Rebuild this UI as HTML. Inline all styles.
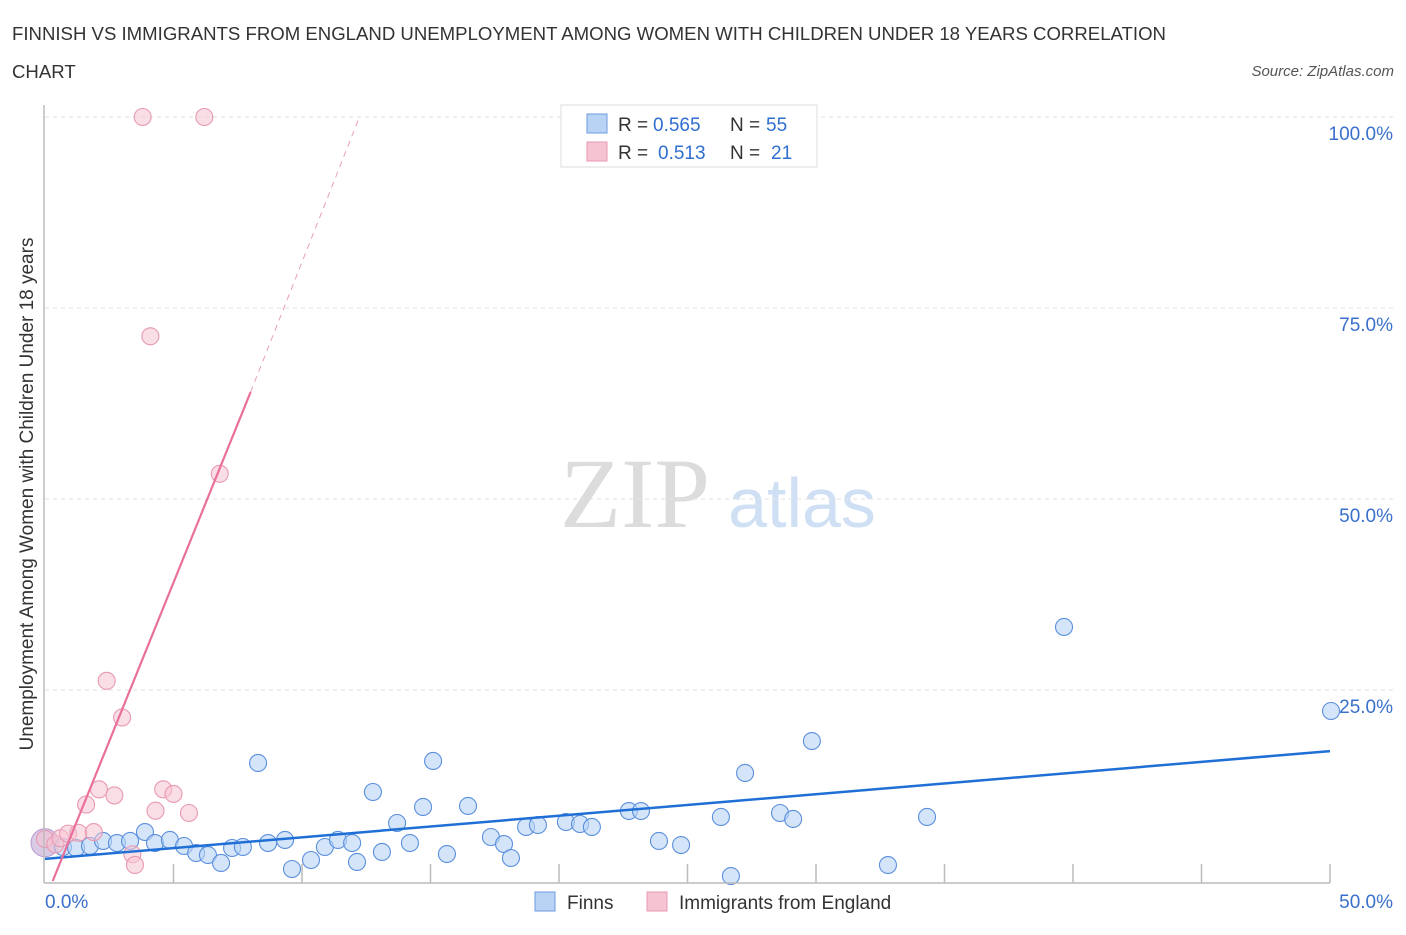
<!DOCTYPE html>
<html><head><meta charset="utf-8"><style>
body{margin:0;background:#fff;font-family:"Liberation Sans",sans-serif}
svg text{font-family:"Liberation Sans",sans-serif}
svg text.serif{font-family:"Liberation Serif",serif}
</style></head><body>
<svg id="c" width="1406" height="930" xmlns="http://www.w3.org/2000/svg">
<text x="12" y="40" font-size="18.6" fill="#333">FINNISH VS IMMIGRANTS FROM ENGLAND UNEMPLOYMENT AMONG WOMEN WITH CHILDREN UNDER 18 YEARS CORRELATION</text>
<text x="12" y="78" font-size="18.6" fill="#333">CHART</text>
<text x="1394" y="76" font-size="15" fill="#555" text-anchor="end" font-style="italic">Source: ZipAtlas.com</text>
<text x="33" y="494" font-size="19" fill="#333" text-anchor="middle" transform="rotate(-90 33 494)">Unemployment Among Women with Children Under 18 years</text>
<text class="serif" x="635" y="527" font-size="100" fill="#dcdcdc" text-anchor="middle">ZIP</text>
<text x="802" y="527" font-size="70" fill="#cfe0f5" text-anchor="middle">atlas</text>
<g id="grid"></g><g id="pts"></g><g id="lines"></g>
<line x1="44" y1="105" x2="44" y2="883" stroke="#bbb" stroke-width="1.5"/>
<line x1="44" y1="883" x2="1330" y2="883" stroke="#bbb" stroke-width="1.5"/>
<text x="45" y="908" font-size="19" fill="#3a70cc">0.0%</text>
<text x="1393" y="908" font-size="19" fill="#3a70cc" text-anchor="end">50.0%</text>
<g>
<rect x="561" y="105" width="256" height="62" fill="#fff" stroke="#ddd"/>
<rect x="587" y="114" width="20" height="19" fill="#b9d3f5" stroke="#6d9be0"/>
<rect x="587" y="142" width="20" height="19" fill="#f6c3d2" stroke="#e899b0"/>
<text x="618" y="131" font-size="19" fill="#333">R =</text>
<text x="653" y="131" font-size="19" fill="#2f6fd0">0.565</text>
<text x="730" y="131" font-size="19" fill="#333">N =</text>
<text x="766" y="131" font-size="19" fill="#2f6fd0">55</text>
<text x="618" y="159" font-size="19" fill="#333">R =</text>
<text x="658" y="159" font-size="19" fill="#2f6fd0">0.513</text>
<text x="730" y="159" font-size="19" fill="#333">N =</text>
<text x="771" y="159" font-size="19" fill="#2f6fd0">21</text>
</g>
<g>
<rect x="535" y="892" width="20" height="19" fill="#b9d3f5" stroke="#6d9be0"/>
<text x="567" y="909" font-size="19" fill="#333">Finns</text>
<rect x="647" y="892" width="20" height="19" fill="#f6c3d2" stroke="#e899b0"/>
<text x="679" y="909" font-size="19" fill="#333">Immigrants from England</text>
</g>
</svg>
<script>
const yTicks=[25,50,75,100];
const xTicks=[0,5,10,15,20,25,30,35,40,45,50];
const finnsX=[0.70,1.21,1.75,2.26,2.80,3.31,3.89,4.28,4.86,5.41,5.88,6.34,6.85,7.28,7.70,8.29,8.68,9.34,9.61,10.35,10.89,11.40,11.95,12.14,12.76,13.11,13.70,14.20,14.71,15.10,15.64,16.46,17.35,17.86,18.13,18.72,19.18,20.27,20.82,21.28,22.72,23.19,23.89,24.75,26.30,26.69,27.24,28.60,29.11,29.84,32.80,34.32,39.65,50.04];
const finnsY=[4.45,4.32,4.58,5.24,4.97,5.24,6.41,4.97,5.37,4.58,3.66,3.40,2.36,4.32,4.45,15.45,4.97,5.37,1.57,2.75,4.45,5.37,4.97,2.49,11.65,3.80,7.59,4.97,9.69,15.71,3.53,9.82,5.76,4.84,3.01,7.07,7.33,7.72,7.46,7.07,9.16,9.16,5.24,4.71,8.38,0.65,14.14,8.90,8.12,18.32,2.09,8.38,33.25,22.25];
const engX=[0,0.4,0.6,0.9,1.3,1.6,1.9,2.1,2.4,2.7,3.0,3.4,3.5,3.8,4.1,4.3,4.6,5.0,5.6,6.2,6.8];
const engY=[5.5,4.8,5.6,6.2,6.3,10,6.4,12,26.2,11.2,21.4,3.5,2.1,100,71.3,9.2,12,11.4,8.9,100,53.3];
const finnsTrend=[0,2.9,50,17.0];
const engTrend=[0.3,0,8.0,64.0,12.2,99.7];
const X=v=>45+v/50*1285, Y=v=>881-v*7.64;
const ns="http://www.w3.org/2000/svg";
function mk(t,a,p){const e=document.createElementNS(ns,t);for(const k in a)e.setAttribute(k,a[k]);document.getElementById(p).appendChild(e);return e;}
yTicks.forEach(t=>{
 const l=mk('line',{x1:45,x2:1393,y1:Y(t),y2:Y(t),stroke:'#e2e2e2','stroke-dasharray':'4,4'},'grid');
 
 
 const tx=mk('text',{x:1393,y:Y(t)+23,'font-size':19,fill:'#3a70cc','text-anchor':'end'},'grid');
 tx.textContent=t.toFixed(1)+'%';
 
 
});
xTicks.forEach(t=>{
 if(t===0)return;
 const l=mk('line',{x1:X(t),x2:X(t),y1:864,y2:883,stroke:'#bbb','stroke-width':1.5},'grid');
 
 
});
const big1=mk('circle',{cx:X(0),cy:Y(5),r:14,fill:'rgba(185,160,210,0.55)',stroke:'#b99ad0'},'pts');


finnsY.forEach((v,i)=>{
 const c=mk('circle',{cx:X(finnsX[i]),cy:Y(v),r:8.5,fill:'rgba(185,211,245,0.6)',stroke:'#5a8fdd','stroke-width':1.1},'pts');
 
 
});
engY.forEach((v,i)=>{
 const c=mk('circle',{cx:X(engX[i]),cy:Y(v),r:8.5,fill:'rgba(246,195,210,0.55)',stroke:'#e899b0','stroke-width':1.1},'pts');
 
 
});
const bl=mk('line',{x1:X(finnsTrend[0]),y1:Y(finnsTrend[1]),x2:X(finnsTrend[2]),y2:Y(finnsTrend[3]),stroke:'#1f6fd6','stroke-width':2.5},'lines');


const pl=mk('line',{x1:X(engTrend[0]),y1:Y(engTrend[1]),x2:X(engTrend[2]),y2:Y(engTrend[3]),stroke:'#e8709a','stroke-width':2.2},'lines');


const pd=mk('line',{x1:X(engTrend[2]),y1:Y(engTrend[3]),x2:X(engTrend[4]),y2:Y(engTrend[5]),stroke:'#e8a0b8','stroke-width':1,'stroke-dasharray':'6,5'},'lines');


</script>
</body></html>
